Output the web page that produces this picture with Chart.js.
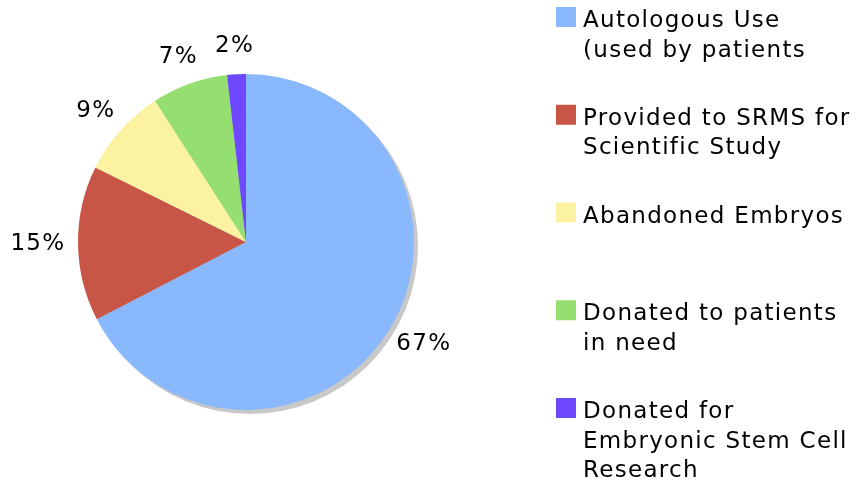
<!DOCTYPE html>
<html>
<head>
<meta charset="utf-8">
<script src="https://cdn.jsdelivr.net/npm/chart.js@4"></script>
<style>
  html, body { margin: 0; padding: 0; background: #fff; }
  #wrap { width: 858px; height: 484px; }
</style>
</head>
<body>
<div id="wrap"><canvas id="pieChart" width="858" height="484"></canvas></div>
<script>
// categories (legend lines) and slice values
const categories = [
    ["Autologous Use", "(used by patients"],
    ["Provided to SRMS for", "Scientific Study"],
    ["Abandoned Embryos"],
    ["Donated to patients", "in need"],
    ["Donated for", "Embryonic Stem Cell", "Research"]
];

const shares = [67.4, 14.9, 8.6, 7.3, 1.8];

const sliceColors = ["#8ab8fd", "#c85646", "#fcf3a2", "#94df70", "#6e48ff"];

const FONT = "23px 'DejaVu Sans', Verdana, sans-serif";

/* grey shadow under the pie */
const shadowPlugin = {
    id: "shadow",
    beforeDatasetsDraw(chart) {
        const arc = chart.getDatasetMeta(0).data[0];
        if (!arc) return;
        const ctx = chart.ctx;
        ctx.save();
        ctx.fillStyle = "#c8c8c8";
        ctx.beginPath();
        ctx.arc(arc.x + 4, arc.y + 4, arc.outerRadius, 0, Math.PI * 2);
        ctx.fill();
        ctx.restore();
    }
};

/* percent labels outside the slices + legend on the right */
const labelPlugin = {
    id: "labels",
    afterDraw(chart) {
        const ctx = chart.ctx;
        const meta = chart.getDatasetMeta(0);
        const total = shares.reduce((a, b) => a + b, 0);
        ctx.save();
        ctx.font = FONT;
        ctx.letterSpacing = "1.3px";
        ctx.fillStyle = "#000";
        ctx.textAlign = "center";
        ctx.textBaseline = "middle";

        meta.data.forEach((arc, i) => {
            const mid = (arc.startAngle + arc.endAngle) / 2;
            const txt = Math.round(shares[i] / total * 100) + "%";
            const w = ctx.measureText(txt).width;
            const r = arc.outerRadius + 17;
            const x = arc.x + Math.cos(mid) * (r + w * 0.42);
            const y = arc.y + Math.sin(mid) * (r + 11);
            ctx.fillText(txt, x, y);
        });

        // legend
        ctx.textAlign = "left";
        ctx.textBaseline = "alphabetic";
        categories.forEach((lines, i) => {
            const top = 7 + i * 97.75;
            ctx.fillStyle = sliceColors[i];
            ctx.fillRect(556, top, 20, 20);
            ctx.fillStyle = "#000";
            lines.forEach((line, j) => {
                ctx.fillText(line, 583, top + 20 + j * 29.5);
            });
        });
        ctx.restore();
    }
};

new Chart(
    document.getElementById("pieChart"),
    {
        type: "pie",
        data: {
            labels: categories.map(c => c.join(" ")),
            datasets: [{
                data: shares,
                backgroundColor: sliceColors,
                borderWidth: 0
            }]
        },
        options: {
            responsive: false,
            animation: false,
            layout: {
                padding: { top: 74, bottom: 74, left: 78, right: 444 }
            },
            plugins: {
                legend: { display: false },
                tooltip: { enabled: false }
            }
        },
        plugins: [shadowPlugin, labelPlugin]
    }
);
</script>
</body>
</html>
